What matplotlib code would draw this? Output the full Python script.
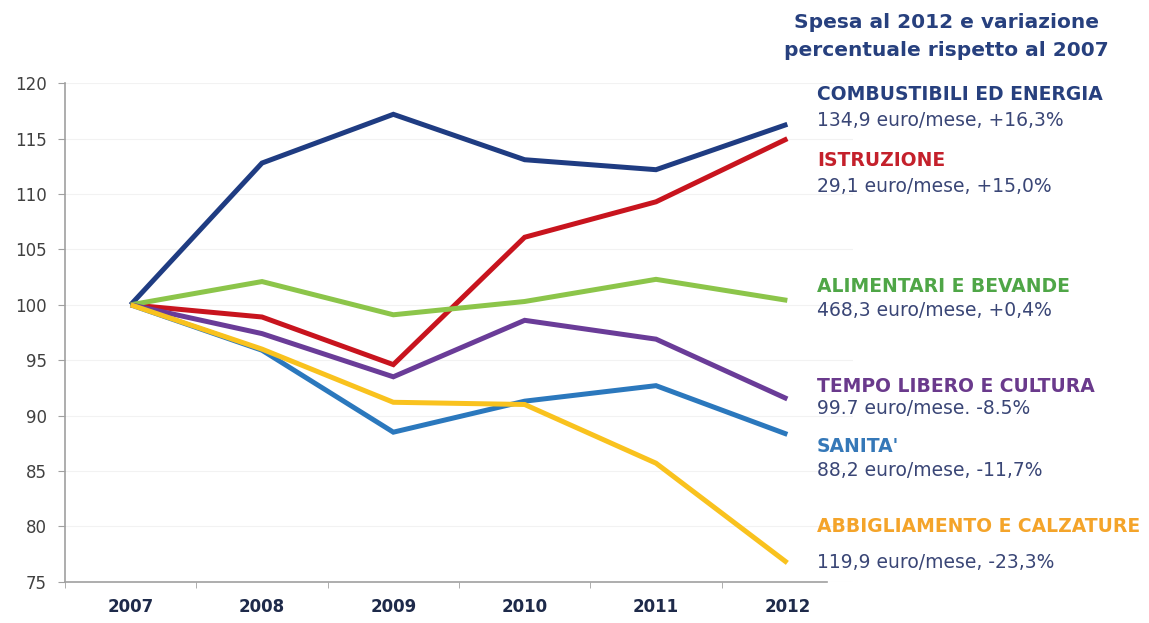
import matplotlib.pyplot as plt

years = ['2007', '2008', '2009', '2010', '2011', '2012']
combustibili = [100, 112.8, 117.2, 113.1, 112.2, 116.3]
istruzione = [100, 98.9, 94.6, 106.1, 109.3, 115.0]
alimentari = [100, 102.1, 99.1, 100.3, 102.3, 100.4]
tempo_libero = [100, 97.4, 93.5, 98.6, 96.9, 91.5]
sanita = [100, 95.9, 88.5, 91.3, 92.7, 88.3]
abbigliamento = [100, 96.0, 91.2, 91.0, 85.7, 76.7]

series = [
    (combustibili, '#1f3c82'),
    (istruzione, '#c8141e'),
    (alimentari, '#8cc54a'),
    (tempo_libero, '#6a3c98'),
    (sanita, '#2b78bd'),
    (abbigliamento, '#f9c21e'),
]

labels = [
    ('COMBUSTIBILI ED ENERGIA', '134,9 euro/mese, +16,3%', '#27407e', 95, 121),
    ('ISTRUZIONE', '29,1 euro/mese, +15,0%', '#c4202b', 160, 187),
    ('ALIMENTARI E BEVANDE', '468,3 euro/mese, +0,4%', '#4fa647', 286, 311),
    ('TEMPO LIBERO E CULTURA', '99.7 euro/mese. -8.5%', '#6a3a8c', 387, 408),
    ("SANITA'", '88,2 euro/mese, -11,7%', '#3578b8', 446, 471),
    ('ABBIGLIAMENTO E CALZATURE', '119,9 euro/mese, -23,3%', '#f4a42a', 527, 563),
]

W, H = 1149, 623
fig = plt.figure(figsize=(W / 100, H / 100), dpi=100)
ax = fig.add_axes([65 / W, 1 - 581.7 / H, 788 / W, (581.7 - 83.3) / H])

x = list(range(len(years)))
for values, color in series:
    ax.plot(x, values, color=color, linewidth=3.6, solid_capstyle='butt', solid_joinstyle='miter')

ax.set_xlim(-0.5, 5.5)
ax.set_ylim(75, 120)
ax.set_yticks(range(75, 121, 5))
ax.set_xticks(x)
ax.set_xticklabels(years, fontweight='bold', fontsize=12, color='#1e2a4a')
ax.set_xticks([i - 0.5 for i in x], minor=True)
ax.tick_params(axis='x', which='major', length=0, pad=12)
ax.tick_params(axis='x', which='minor', length=4, color='#a0a0a0', direction='out')
ax.tick_params(axis='y', length=5, color='#a0a0a0', labelsize=12, labelcolor='#404040', pad=8)

ax.grid(axis='y', color='#f2f2f2', linewidth=0.8)
ax.set_axisbelow(True)
for side in ['top', 'right']:
    ax.spines[side].set_visible(False)
ax.spines['left'].set_color('#a0a0a0')
ax.spines['bottom'].set_color('#a0a0a0')
ax.spines['left'].set_linewidth(1.2)
ax.spines['bottom'].set_linewidth(1.2)
ax.spines['bottom'].set_bounds(-0.5, 5.3)

fig.text(946 / W, 1 - 22 / H, 'Spesa al 2012 e variazione', ha='center', va='center',
         fontsize=14.5, fontweight='bold', color='#27407e')
fig.text(946 / W, 1 - 50 / H, 'percentuale rispetto al 2007', ha='center', va='center',
         fontsize=14.5, fontweight='bold', color='#27407e')

for name, detail, color, y1, y2 in labels:
    fig.text(817 / W, 1 - y1 / H, name, ha='left', va='center',
             fontsize=13.5, fontweight='bold', color=color)
    fig.text(817 / W, 1 - y2 / H, detail, ha='left', va='center',
             fontsize=13.5, color='#3a4676')

fig.savefig('out.png', dpi=100)
